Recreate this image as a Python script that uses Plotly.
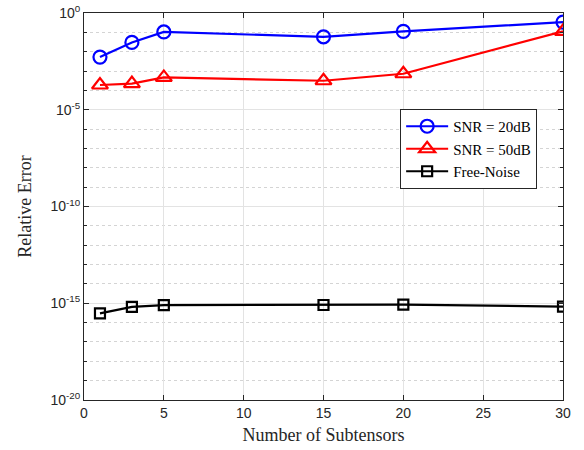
import plotly.graph_objects as go

x_vals = [1, 3, 5, 15, 20, 30]
snr20_exp = [-2.28, -1.52, -0.98, -1.23, -0.95, -0.47]
snr50_exp = [-3.72, -3.65, -3.33, -3.50, -3.14, -0.95]
free_exp = [-15.52, -15.19, -15.10, -15.09, -15.07, -15.17]

snr20 = [10 ** e for e in snr20_exp]
snr50 = [10 ** e for e in snr50_exp]
free = [10 ** e for e in free_exp]

y_major_exp = [0, -5, -10, -15, -20]
y_tick_text = ["10<sup>0</sup>", "10<sup>-5</sup>", "10<sup>-10</sup>", "10<sup>-15</sup>", "10<sup>-20</sup>"]
x_ticks = [0, 5, 10, 15, 20, 25, 30]

serif = "Liberation Serif, DejaVu Serif, serif"
sans = "Liberation Sans, Arial, sans-serif"

fig = go.Figure()
fig.add_trace(go.Scatter(x=x_vals, y=snr20, mode="lines+markers", name="SNR = 20dB",
                         line=dict(color="#0000FF", width=2.2),
                         marker=dict(symbol="circle-open", size=13, color="#0000FF", line=dict(width=2.2))))
fig.add_trace(go.Scatter(x=x_vals, y=snr50, mode="lines+markers", name="SNR = 50dB",
                         line=dict(color="#FF0000", width=2.2),
                         marker=dict(symbol="triangle-up-open", size=14, color="#FF0000", line=dict(width=2.2))))
fig.add_trace(go.Scatter(x=x_vals, y=free, mode="lines+markers", name="Free-Noise",
                         line=dict(color="#000000", width=2.2),
                         marker=dict(symbol="square-open", size=10, color="#000000", line=dict(width=2.2))))

fig.update_layout(
    width=584, height=450,
    margin=dict(l=84, r=21, t=13, b=50),
    paper_bgcolor="white", plot_bgcolor="white",
    font=dict(family=sans, size=13, color="#262626"),
    legend=dict(x=0.66, y=0.752, xanchor="left", yanchor="top",
                bgcolor="white", bordercolor="#262626", borderwidth=1,
                font=dict(family=serif, size=15, color="#000000"),
                tracegroupgap=0, itemwidth=42),
    showlegend=True,
)
fig.update_xaxes(
    automargin=False,
    range=[0, 30], tickvals=x_ticks, ticks="inside", ticklen=5, tickcolor="#262626",
    showline=True, linecolor="#262626", linewidth=1, mirror="ticks",
    showgrid=True, gridcolor="#e3e3e3", gridwidth=1, zeroline=False,
    tickfont=dict(family=sans, size=14, color="#262626"),
    title=dict(text="Number of Subtensors", font=dict(family=serif, size=18, color="#262626"), standoff=8),
)
fig.update_yaxes(
    automargin=False,
    type="log", range=[-20, 0],
    tickvals=[10 ** e for e in y_major_exp], ticktext=y_tick_text,
    ticks="inside", ticklen=5, tickcolor="#262626",
    showline=True, linecolor="#262626", linewidth=1, mirror="ticks",
    showgrid=True, gridcolor="#e3e3e3", gridwidth=1, zeroline=False,
    tickfont=dict(family=sans, size=14, color="#262626"),
    minor=dict(tickvals=[10 ** (-e) for e in range(1, 20) if e % 5 != 0],
               ticks="inside", ticklen=3, tickcolor="#262626",
               showgrid=True, gridcolor="#d4d4d4", griddash="dot", gridwidth=1),
    title=dict(text="Relative Error", font=dict(family=serif, size=18, color="#262626"), standoff=14),
)

fig.write_html("out.html")
